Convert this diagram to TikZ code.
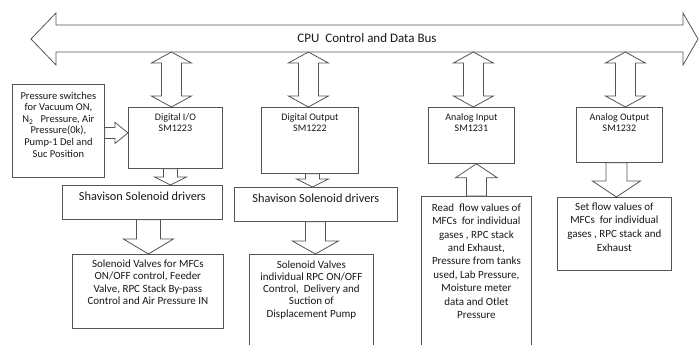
\documentclass[tikz,border=0pt]{standalone}
\usepackage{fontspec}
\setmainfont{Carlito}
\usetikzlibrary{calc}
\definecolor{linec}{RGB}{85,85,85}
\definecolor{txtc}{RGB}{25,25,25}
\tikzset{
  blk/.style={draw=linec, line width=0.8pt, fill=white, line join=miter},
  box/.style={draw=linec, line width=0.8pt, inner sep=0pt, anchor=north west, text=txtc},
}
% top-aligned centred text block of given width/height with top padding
\newcommand\tbox[4]{\vbox to #2pt{\hsize=#1pt\centering\vskip#3pt\relax #4\par\vfill}}
% down block arrow: tail, tip, shaft half width, head half width, head length
\newcommand\darr[5]{\draw[blk] let \p1=#1, \p2=#2 in (\x1-#3,\y1) -- (\x1-#3,\y2+#5) -- (\x1-#4,\y2+#5) -- (\x1,\y2) -- (\x1+#4,\y2+#5) -- (\x1+#3,\y2+#5) -- (\x1+#3,\y1) -- cycle;}
% up block arrow
\newcommand\uarr[5]{\draw[blk] let \p1=#1, \p2=#2 in (\x1-#3,\y1) -- (\x1-#3,\y2-#5) -- (\x1-#4,\y2-#5) -- (\x1,\y2) -- (\x1+#4,\y2-#5) -- (\x1+#3,\y2-#5) -- (\x1+#3,\y1) -- cycle;}
% right block arrow
\newcommand\rarr[5]{\draw[blk] let \p1=#1, \p2=#2 in (\x1,\y1+#3) -- (\x2-#5,\y1+#3) -- (\x2-#5,\y1+#4) -- (\x2,\y1) -- (\x2-#5,\y1-#4) -- (\x2-#5,\y1-#3) -- (\x1,\y1-#3) -- cycle;}
% vertical double block arrow: top tip, bottom tip
\newcommand\vdarr[5]{\draw[blk] let \p1=#1, \p2=#2 in (\x1,\y1) -- (\x1+#4,\y1-#5) -- (\x1+#3,\y1-#5) -- (\x1+#3,\y2+#5) -- (\x1+#4,\y2+#5) -- (\x1,\y2) -- (\x1-#4,\y2+#5) -- (\x1-#3,\y2+#5) -- (\x1-#3,\y1-#5) -- (\x1-#4,\y1-#5) -- cycle;}
\begin{document}
\begin{tikzpicture}[x=1pt,y=-1pt]
\useasboundingbox (0,0) rectangle (699,345);
\clip (0,0) rectangle (699,345);
\fill[white] (0,0) rectangle (699,345);
% bus
\draw[blk] (31,39) -- (56,13) -- (56,25) -- (683,25) -- (683,13) -- (698,39) -- (683,65) -- (683,52) -- (56,52) -- (56,65) -- cycle;
\node[text=txtc, font=\fontsize{13}{15}\selectfont] (busl) at (367,38) {CPU\ \ Control and Data Bus};
\coordinate (busb) at (0,52);
% boxes
\node[box, font=\fontsize{10.5}{11.6}\selectfont] (press) at (12,84) {\tbox{92}{93}{7.5}{Pressure switches\\for Vacuum ON,\\N\textsubscript{2}\ \ \ Pressure, Air\\Pressure(0k),\\Pump-1 Del and\\Suc Position}};
\node[box, font=\fontsize{10}{10.5}\selectfont] (dio) at (128,107) {\tbox{94}{61}{6.5}{Digital I/O\\SM1223}};
\node[box, font=\fontsize{10}{10.5}\selectfont] (dout) at (261,107) {\tbox{97}{66}{6.5}{Digital Output\\SM1222}};
\node[box, font=\fontsize{10}{10.5}\selectfont] (ai) at (428,107) {\tbox{86}{56}{6.5}{Analog Input\\SM1231}};
\node[box, font=\fontsize{10}{10.5}\selectfont] (ao) at (576,107) {\tbox{86}{55}{6.5}{Analog Output\\SM1232}};
\node[box, font=\fontsize{12.3}{14}\selectfont] (sh1) at (62,185) {\tbox{160}{34}{6.8}{Shavison Solenoid drivers}};
\node[box, font=\fontsize{12.3}{14}\selectfont] (sh2) at (234,187) {\tbox{163}{34}{6.8}{Shavison Solenoid drivers}};
\node[box, font=\fontsize{11}{12.5}\selectfont] (v1) at (72,254) {\tbox{151}{74}{5.3}{Solenoid Valves for MFCs\\ON/OFF control, Feeder\\Valve, RPC Stack By-pass\\Control and Air Pressure IN}};
\node[box, font=\fontsize{11}{12.2}\selectfont] (v2) at (249,254) {\tbox{124}{96}{6.3}{Solenoid Valves\\individual RPC ON/OFF\\Control,\ \ Delivery and\\Suction of\\Displacement Pump}};
\node[box, font=\fontsize{11}{13.4}\selectfont] (read) at (421,196) {\tbox{110}{154}{7.3}{Read\ \ flow values of\\MFCs\ \ for individual\\gases , RPC stack\\and Exhaust,\\Pressure from tanks\\used, Lab Pressure,\\Moisture meter\\data and Otlet\\Pressure}};
\node[box, font=\fontsize{11}{13.6}\selectfont] (set) at (557,197) {\tbox{114}{73}{5.3}{Set flow values of\\MFCs\ \ for individual\\gases , RPC stack and\\Exhaust}};
% bus connectors
\vdarr{($(dio.north|-busb)+(-4,0)$)}{($(dio.north)+(-4,0)$)}{10}{20}{11}
\vdarr{($(dout.north|-busb)+(-1.5,0)$)}{($(dout.north)+(-1.5,0)$)}{10}{20}{11}
\vdarr{($(ai.north|-busb)+(2,0)$)}{($(ai.north)+(2,0)$)}{10}{20}{11}
\vdarr{($(ao.north|-busb)+(6,0)$)}{($(ao.north)+(6,0)$)}{10}{20}{11}
% other connectors
\rarr{($(press.east)+(0,2)$)}{(dio.west)}{5.5}{10.5}{13}
\darr{($(dio.south)+(-5,0)$)}{(sh1.north)}{7}{16}{8}
\darr{($(dout.south)+(2.5,0)$)}{(sh2.north)}{7}{16}{8}
\darr{($(sh1.south)+(6,0)$)}{(v1.north)}{12}{25}{15}
\darr{($(sh2.south)+(-0.5,0)$)}{(v2.north)}{10}{23}{13}
\darr{($(ao.south)+(-3,0)$)}{(set.north)}{10.5}{24}{16}
\uarr{($(read.north)+(0,0)$)}{($(ai.south)+(5,0)$)}{10}{21}{14}
\end{tikzpicture}
\end{document}
